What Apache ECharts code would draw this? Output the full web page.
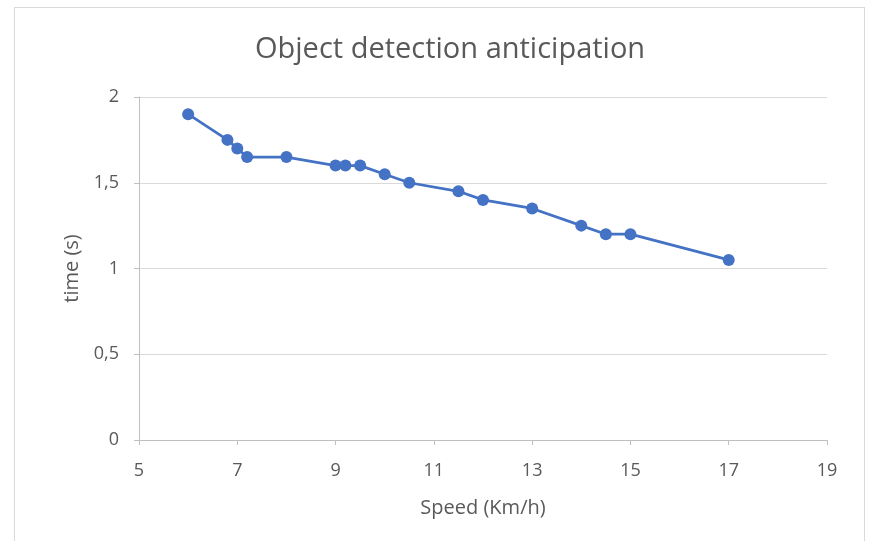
<!DOCTYPE html>
<html>
<head>
<meta charset="utf-8">
<script src="https://cdn.jsdelivr.net/npm/echarts@6/dist/echarts.min.js"></script>
<style>
html,body{margin:0;padding:0;background:#fff;overflow:hidden;}
#frame{position:absolute;left:14px;top:7px;width:851px;height:560px;border:1px solid #d9d9d9;box-sizing:border-box;}
#chart{position:absolute;left:0;top:0;width:872px;height:541px;}
</style>
</head>
<body>
<div id="frame"></div>
<div id="chart"></div>
<script>
const speed = [6, 6.8, 7, 7.2, 8, 9, 9.2, 9.5, 10, 10.5, 11.5, 12, 13, 14, 14.5, 15, 17];
const time  = [1.9, 1.75, 1.7, 1.65, 1.65, 1.6, 1.6, 1.6, 1.55, 1.5, 1.45, 1.4, 1.35, 1.25, 1.2, 1.2, 1.05];
const titleText = 'Object detection anticipation';
const xName = 'Speed (Km/h)';
const yName = 'time (s)';

const font = '"Open Sans", "Noto Sans", sans-serif';
const chart = echarts.init(document.getElementById('chart'), null, {renderer:'canvas'});
chart.setOption({
  animation:false,
  backgroundColor:'transparent',
  title:{
    text:titleText, left:250, top:30,
    textStyle:{fontFamily:font, fontSize:29, fontWeight:'normal', color:'#595959'}
  },
  grid:{left:139, right:45, top:97, bottom:101},
  xAxis:{
    type:'value', min:5, max:19, interval:2,
    name:xName, nameLocation:'middle', nameGap:58,
    nameTextStyle:{fontFamily:font, fontSize:20, color:'#595959'},
    axisLine:{show:true, lineStyle:{color:'#bfbfbf', width:1}},
    axisTick:{show:true, length:5, lineStyle:{color:'#bfbfbf'}},
    axisLabel:{fontFamily:font, fontSize:18, color:'#595959', margin:22},
    splitLine:{show:false}
  },
  yAxis:{
    type:'value', min:0, max:2, interval:0.5,
    name:yName, nameLocation:'middle', nameGap:57, nameRotate:90,
    nameTextStyle:{fontFamily:font, fontSize:20, color:'#595959'},
    axisLine:{show:true, lineStyle:{color:'#bfbfbf', width:1}},
    axisTick:{show:true, length:5, lineStyle:{color:'#bfbfbf'}},
    axisLabel:{fontFamily:font, fontSize:18, color:'#595959', margin:20,
      formatter:v=>String(v).replace('.', ',')},
    splitLine:{show:true, lineStyle:{color:'#d9d9d9', width:1}}
  },
  series:[{
    type:'line',
    data:speed.map((s,i)=>[s,time[i]]),
    symbol:'circle', symbolSize:12,
    lineStyle:{color:'#4472C4', width:2.75},
    itemStyle:{color:'#4472C4'}
  }]
});
</script>
</body>
</html>
